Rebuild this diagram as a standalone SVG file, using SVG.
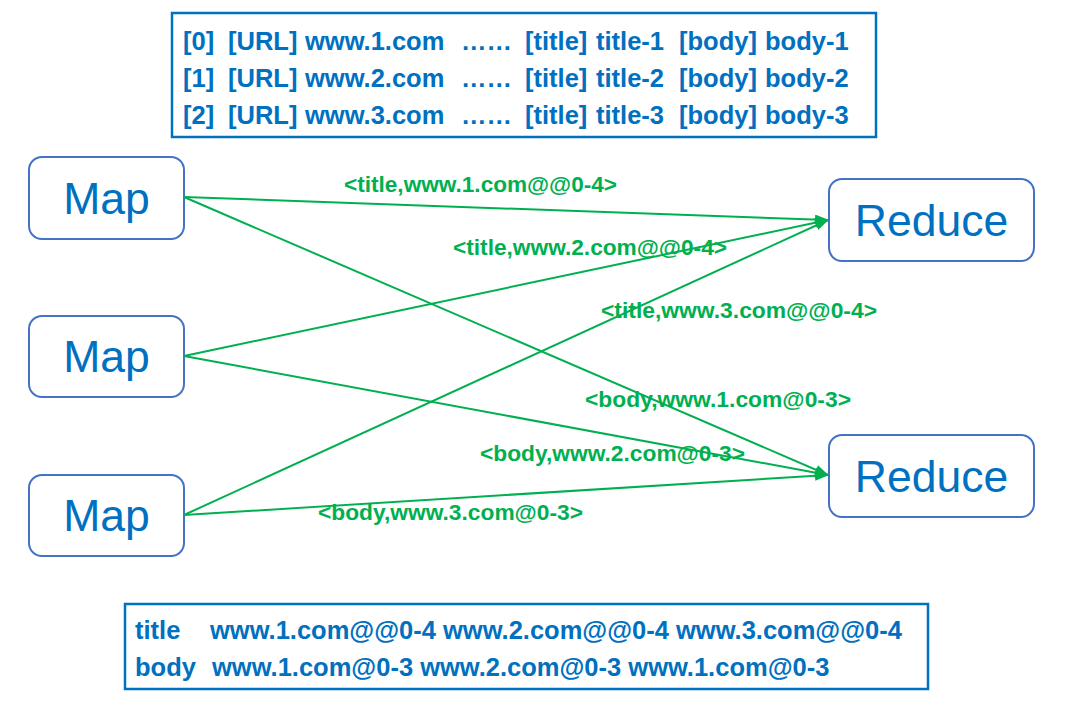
<svg xmlns="http://www.w3.org/2000/svg" width="1082" height="706" viewBox="0 0 1082 706">
<style>
.frame{fill:#fff;stroke:#0070C0;stroke-width:2.5}
.node{fill:#fff;stroke:#4472C4;stroke-width:2}
.big{font-family:"Liberation Sans",Arial,sans-serif;font-size:44.5px;fill:#0070C0;text-anchor:middle}
.t{font-family:"Liberation Sans",Arial,sans-serif;font-size:25.5px;font-weight:bold;fill:#0070C0}
.lbl{font-family:"Liberation Sans",Arial,sans-serif;font-size:22px;font-weight:bold;fill:#00B050}
.edge{stroke:#00B050;stroke-width:2;fill:none;marker-end:url(#arr)}
</style>
<defs>
<marker id="arr" viewBox="0 0 14 10" refX="13" refY="5" markerWidth="14" markerHeight="10" markerUnits="userSpaceOnUse" orient="auto">
<path d="M0,0 L14,5 L0,10 z" fill="#00B050"/>
</marker>
</defs>
<rect width="1082" height="706" fill="#fff"/>
<g id="records">
<rect class="frame" x="172" y="13" width="704" height="124"/>
<text class="t" y="50"><tspan x="183">[0]</tspan><tspan x="228">[URL]</tspan><tspan x="305">www.1.com</tspan><tspan x="461">……</tspan><tspan x="525">[title]</tspan><tspan x="596">title-1</tspan><tspan x="679">[body]</tspan><tspan x="765">body-1</tspan></text>
<text class="t" y="87"><tspan x="183">[1]</tspan><tspan x="228">[URL]</tspan><tspan x="305">www.2.com</tspan><tspan x="461">……</tspan><tspan x="525">[title]</tspan><tspan x="596">title-2</tspan><tspan x="679">[body]</tspan><tspan x="765">body-2</tspan></text>
<text class="t" y="124"><tspan x="183">[2]</tspan><tspan x="228">[URL]</tspan><tspan x="305">www.3.com</tspan><tspan x="461">……</tspan><tspan x="525">[title]</tspan><tspan x="596">title-3</tspan><tspan x="679">[body]</tspan><tspan x="765">body-3</tspan></text>
</g>
<g id="map1"><rect class="node" x="29" y="157" width="155" height="82" rx="13"/><text class="big" x="106.5" y="214">Map</text></g>
<g id="map2"><rect class="node" x="29" y="316" width="155" height="81" rx="13"/><text class="big" x="106.5" y="372">Map</text></g>
<g id="map3"><rect class="node" x="29" y="475" width="155" height="81" rx="13"/><text class="big" x="106.5" y="531">Map</text></g>
<g id="reduce1"><rect class="node" x="829" y="179" width="205" height="82" rx="13"/><text class="big" x="931.5" y="236">Reduce</text></g>
<g id="reduce2"><rect class="node" x="829" y="435" width="205" height="82" rx="13"/><text class="big" x="931.5" y="492">Reduce</text></g>
<g id="connectors">
<line class="edge" x1="184" y1="197" x2="828" y2="220"/>
<line class="edge" x1="184" y1="197" x2="828" y2="475"/>
<line class="edge" x1="184" y1="356" x2="828" y2="220"/>
<line class="edge" x1="184" y1="356" x2="828" y2="475"/>
<line class="edge" x1="184" y1="515" x2="828" y2="220"/>
<line class="edge" x1="184" y1="515" x2="828" y2="475"/>
<text class="lbl" x="344" y="192" textLength="273" lengthAdjust="spacingAndGlyphs">&lt;title,www.1.com@@0-4&gt;</text>
<text class="lbl" x="453" y="255" textLength="274" lengthAdjust="spacingAndGlyphs">&lt;title,www.2.com@@0-4&gt;</text>
<text class="lbl" x="601" y="318" textLength="276" lengthAdjust="spacingAndGlyphs">&lt;title,www.3.com@@0-4&gt;</text>
<text class="lbl" x="585" y="407" textLength="266" lengthAdjust="spacingAndGlyphs">&lt;body,www.1.com@0-3&gt;</text>
<text class="lbl" x="480" y="461" textLength="265" lengthAdjust="spacingAndGlyphs">&lt;body,www.2.com@0-3&gt;</text>
<text class="lbl" x="318" y="520" textLength="265" lengthAdjust="spacingAndGlyphs">&lt;body,www.3.com@0-3&gt;</text>
</g>
<g id="result">
<rect class="frame" x="125" y="604" width="803" height="85"/>
<text class="t" y="639"><tspan x="135">title</tspan><tspan x="210">www.1.com@@0-4 www.2.com@@0-4 www.3.com@@0-4</tspan></text>
<text class="t" y="676"><tspan x="135">body</tspan><tspan x="212">www.1.com@0-3 www.2.com@0-3 www.1.com@0-3</tspan></text>
</g>
</svg>
